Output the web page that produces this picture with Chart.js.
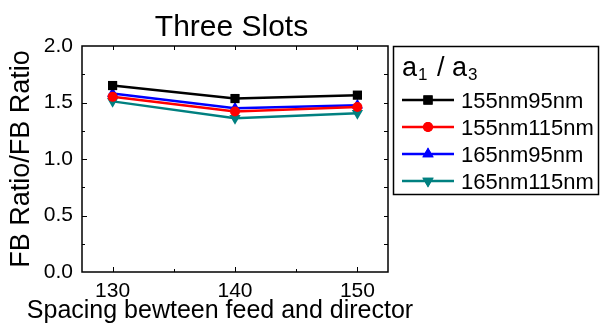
<!DOCTYPE html>
<html>
<head>
<meta charset="utf-8">
<script src="https://cdn.jsdelivr.net/npm/chart.js@4"></script>
<style>
  body { margin: 0; background: #fff; }
  #wrap { width: 601px; height: 327px; position: relative; }
</style>
</head>
<body>
<div id="wrap"><canvas id="fb-chart"></canvas></div>
<script>
const CTX = document.getElementById('fb-chart');
const FONT = "'Liberation Sans', Arial, sans-serif";

// spacing between feed and director, and FB ratio for each a1/a3 pair
const spacings = [130, 140, 150];
const seriesNames = ['155nm95nm', '155nm115nm', '165nm95nm', '165nm115nm'];
const ratio155_95 = [1.65, 1.535, 1.565];
const ratio155_115 = [1.55, 1.42, 1.46];
const ratio165_95 = [1.58, 1.45, 1.475];
const ratio165_115 = [1.51, 1.36, 1.405];
const xTicks = [130, 140, 150];
const yTicks = [0, 0.5, 1.0, 1.5, 2.0];

const colors = ['#000000', '#ff0000', '#0000ff', '#008080'];
const markers = ['rect', 'circle', 'triangle', 'triangle'];
const markerRot = [0, 0, 0, 180];
const markerSize = [6.5, 5, 6.5, 6.5];

const allSeries = [ratio155_95, ratio155_115, ratio165_95, ratio165_115];

const datasets = allSeries.map((vals, i) => ({
  label: seriesNames[i],
  data: vals.map((v, j) => ({ x: spacings[j], y: v })),
  borderColor: colors[i],
  backgroundColor: colors[i],
  borderWidth: 2.5,
  pointStyle: markers[i],
  pointRotation: markerRot[i],
  pointRadius: markerSize[i],
  pointBorderWidth: 0,
  pointHoverRadius: markerSize[i]
}));

// box round the plot, inward ticks on all sides, titles and the legend
const framePlugin = {
  id: 'frame',
  afterDraw(chart) {
    const ctx = chart.ctx;
    const a = chart.chartArea;
    const xs = chart.scales.x, ys = chart.scales.y;
    ctx.save();
    ctx.strokeStyle = '#000';
    ctx.lineWidth = 1.5;
    ctx.strokeRect(a.left, a.top, a.right - a.left, a.bottom - a.top);

    ctx.lineWidth = 1;
    ctx.beginPath();
    for (let v = 130; v <= 150; v += 5) {
      const px = Math.round(xs.getPixelForValue(v)) + 0.5;
      const len = v % 10 === 0 ? 5 : 3;
      ctx.moveTo(px, a.bottom); ctx.lineTo(px, a.bottom - len);
      ctx.moveTo(px, a.top); ctx.lineTo(px, a.top + 4);
    }
    for (let v = 0.25; v < 2; v += 0.25) {
      const py = Math.round(ys.getPixelForValue(v)) + 0.5;
      const len = Math.abs(v * 2 - Math.round(v * 2)) < 1e-6 ? 5 : 3;
      ctx.moveTo(a.left, py); ctx.lineTo(a.left + len, py);
      ctx.moveTo(a.right, py); ctx.lineTo(a.right - 4, py);
    }
    ctx.stroke();

    ctx.fillStyle = '#000';
    ctx.textAlign = 'center';
    ctx.textBaseline = 'alphabetic';
    ctx.font = '30px ' + FONT;
    ctx.fillText('Three Slots', 231.5, 36);
    ctx.font = '25px ' + FONT;
    ctx.fillText('Spacing bewteen feed and director', 220, 318);

    // legend
    ctx.lineWidth = 1.5;
    ctx.strokeRect(393.5, 46.5, 205, 148);
    ctx.textAlign = 'left';
    let tx = 402;
    const parts = [['a', 27, 0], ['1', 17, 4], [' / a', 27, 0], ['3', 17, 4]];
    parts.forEach(([t, size, drop]) => {
      ctx.font = size + 'px ' + FONT;
      ctx.fillText(t, tx, 76 + drop);
      tx += ctx.measureText(t).width + (size < 20 ? 2 : 1);
    });

    ctx.font = '22px ' + FONT;
    chart.data.datasets.forEach((ds, i) => {
      const base = 108 + 27 * i;
      const cy = base - 8;
      ctx.strokeStyle = ds.borderColor;
      ctx.lineWidth = 2.5;
      ctx.beginPath();
      ctx.moveTo(402, cy); ctx.lineTo(454, cy);
      ctx.stroke();
      ctx.fillStyle = ds.backgroundColor;
      Chart.helpers.drawPoint(ctx, {
        pointStyle: ds.pointStyle, rotation: ds.pointRotation,
        radius: ds.pointRadius, borderWidth: 0
      }, 428, cy);
      ctx.fill();
      ctx.fillStyle = '#000';
      ctx.fillText(ds.label, 461, base);
    });
    ctx.restore();
  }
};

new Chart(CTX, {
  type: 'line',
  data: { datasets },
  options: {
    responsive: true,
    maintainAspectRatio: false,
    animation: false,
    layout: { padding: { top: 46, right: 213, left: 0, bottom: 0 } },
    plugins: { legend: { display: false }, tooltip: { enabled: false } },
    scales: {
      x: {
        type: 'linear',
        min: 127.5,
        max: 152.5,
        afterBuildTicks: (s) => { s.ticks = xTicks.map(v => ({ value: v })); },
        afterFit: (s) => { s.height = 55; },
        grid: { display: false, drawTicks: false },
        border: { display: false },
        ticks: { color: '#000', padding: 7, font: { family: FONT, size: 21 } }
      },
      y: {
        min: 0,
        max: 2,
        afterBuildTicks: (s) => { s.ticks = yTicks.map(v => ({ value: v })); },
        afterFit: (s) => { s.width = 82; },
        grid: { display: false, drawTicks: false },
        border: { display: false },
        ticks: {
          color: '#000', padding: 9, font: { family: FONT, size: 21 },
          callback: (v) => Number(v).toFixed(1)
        },
        title: {
          display: true,
          text: 'FB Ratio/FB Ratio',
          color: '#000',
          font: { family: FONT, size: 27, lineHeight: 1 },
          padding: { top: 8, bottom: 0 }
        }
      }
    }
  },
  plugins: [framePlugin]
});
</script>
</body>
</html>
